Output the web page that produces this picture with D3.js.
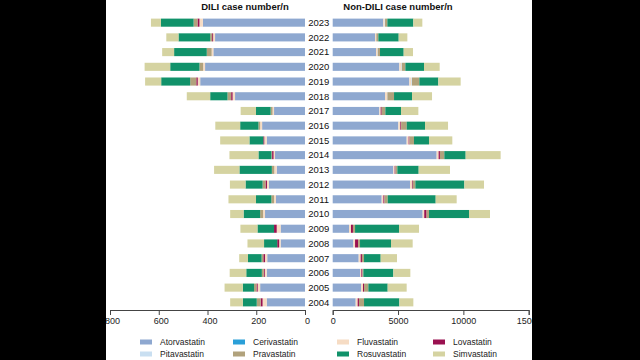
<!DOCTYPE html>
<html><head><meta charset="utf-8">
<script src="https://cdn.jsdelivr.net/npm/d3@7/dist/d3.min.js"></script>
<style>
html,body{margin:0;padding:0;background:#fff;}
svg{display:block;font-family:"Liberation Sans",Arial,sans-serif;}
</style></head>
<body>
<svg id="chart" width="640" height="360"></svg>
<script>
const years = [2004,2005,2006,2007,2008,2009,2010,2011,2012,2013,2014,2015,2016,2017,2018,2019,2020,2021,2022,2023];
const drugs = ["Atorvastatin","Cerivastatin","Fluvastatin","Lovastatin","Pitavastatin","Pravastatin","Rosuvastatin","Simvastatin"];
const colors = ["#8ea8d0","#2a9fd8","#f6dcc4","#9a1150","#c9dff1","#b1a27c","#11926a","#d5d3a1"];

// DILI case numbers (left panel), per drug, years 2004..2023
const diliAtorvastatin = [157,184,157,155,100,100,164,119,148,116,123,157,176,127,287,430,410,376,369,419];
const diliCerivastatin = [0,0,0,0,0,0,0,0,0,0,0,0,0,0,0,0,0,0,0,0];
const diliFluvastatin  = [17,10,8,9,6,16,8,8,8,10,6,10,8,6,10,10,8,7,8,14];
const diliLovastatin   = [8,5,4,7,8,11,0,0,6,0,6,4,0,0,6,6,0,0,4,8];
const diliPitavastatin = [0,0,0,0,0,0,0,0,0,0,0,0,0,0,0,0,0,0,0,0];
const diliPravastatin  = [16,10,8,7,0,0,12,11,12,10,3,0,7,8,15,25,15,20,8,16];
const diliRosuvastatin = [57,46,64,56,54,68,68,63,70,133,53,57,75,60,71,119,120,134,130,134];
const diliSimvastatin  = [52,75,68,36,68,70,55,113,64,104,119,120,102,63,96,66,105,49,50,41];

// Non-DILI case numbers (right panel)
const nonAtorvastatin = [1760,2168,2091,1989,1581,1250,6885,3749,5916,4641,7956,5661,5024,3570,4004,5865,5100,3315,3239,3876];
const nonCerivastatin = [0,0,0,0,0,0,0,0,0,0,0,0,0,0,0,0,0,0,0,0];
const nonFluvastatin  = [150,150,100,150,130,150,120,130,150,100,150,150,150,100,150,150,150,100,80,100];
const nonLovastatin   = [100,80,80,100,230,150,180,80,60,60,100,60,60,80,0,0,0,0,0,0];
const nonPitavastatin = [0,0,0,0,0,0,0,0,0,0,0,0,0,0,30,50,40,30,20,30];
const nonPravastatin  = [388,330,75,158,150,160,186,250,200,146,337,350,430,280,510,565,270,176,155,176];
const nonRosuvastatin = [2703,1479,2295,1275,2372,3366,3060,3672,3749,1632,1632,1148,1403,1199,1377,1454,1428,1811,1556,1989];
const nonSimvastatin  = [1071,1454,1301,1250,1658,1530,1607,1607,1505,2397,2678,1785,1760,1326,1530,1709,1199,714,663,689];

const leftTicks = [800,600,400,200,0];
const rightTicks = [0,5000,10000,15000];
const leftTitle = "DILI case number/n";
const rightTitle = "Non-DILI case number/n";

const diliSeries = [diliAtorvastatin,diliCerivastatin,diliFluvastatin,diliLovastatin,diliPitavastatin,diliPravastatin,diliRosuvastatin,diliSimvastatin];
const nonSeries = [nonAtorvastatin,nonCerivastatin,nonFluvastatin,nonLovastatin,nonPitavastatin,nonPravastatin,nonRosuvastatin,nonSimvastatin];

function rows(series){
  return years.map((y,i)=>{const o={year:y}; drugs.forEach((d,j)=>o[d]=series[j][i]); return o;});
}
const stack = d3.stack().keys(drugs);
const diliStack = stack(rows(diliSeries));
const nonStack = stack(rows(nonSeries));

const svg = d3.select("#chart");
const color = d3.scaleOrdinal().domain(drugs).range(colors);

const y = d3.scaleBand().domain(years.slice().reverse()).range([15.3,309.7]).paddingInner(0.45).paddingOuter(0.225);
const xL = d3.scaleLinear().domain([0,800]).range([305,110]);
const xR = d3.scaleLinear().domain([0,15000]).range([332.7,528.7]);

// left bars
svg.append("g").selectAll("g").data(diliStack).join("g").attr("fill",d=>color(d.key))
  .selectAll("rect").data(d=>d).join("rect")
  .attr("x",d=>xL(d[1])).attr("width",d=>Math.max(0,xL(d[0])-xL(d[1])))
  .attr("y",d=>y(d.data.year)).attr("height",y.bandwidth());

// right bars
svg.append("g").selectAll("g").data(nonStack).join("g").attr("fill",d=>color(d.key))
  .selectAll("rect").data(d=>d).join("rect")
  .attr("x",d=>xR(d[0])).attr("width",d=>Math.max(0,xR(d[1])-xR(d[0])))
  .attr("y",d=>y(d.data.year)).attr("height",y.bandwidth());

// year labels
svg.append("g").selectAll("text").data(years).join("text")
  .attr("x",318.8).attr("y",d=>y(d)+y.bandwidth()/2).attr("dy","0.35em")
  .attr("text-anchor","middle").attr("font-size",9.5).attr("fill","#111").text(d=>d);

// axes
const axL = svg.append("g").attr("transform","translate(0,310)")
  .call(d3.axisBottom(xL).tickValues(leftTicks).tickSize(5).tickSizeOuter(5));
const axR = svg.append("g").attr("transform","translate(0,310)")
  .call(d3.axisBottom(xR).tickValues(rightTicks).tickFormat(d3.format("d")).tickSize(5).tickSizeOuter(5));
[axL,axR].forEach(a=>{
  a.selectAll("path,line").attr("stroke","#444");
  a.selectAll("text").attr("font-size",9).attr("fill","#222").attr("font-family","Liberation Sans, Arial, sans-serif");
});
axL.selectAll("text").attr("dx",2);

// titles
svg.append("text").attr("x",245).attr("y",9.5).attr("text-anchor","middle")
  .attr("font-size",9.5).attr("font-weight","bold").attr("fill","#111").text(leftTitle);
svg.append("text").attr("x",398).attr("y",9.5).attr("text-anchor","middle")
  .attr("font-size",9.5).attr("font-weight","bold").attr("fill","#111").text(rightTitle);

// legend
const legX = [140,233,337,433];
const legY = [342,354];
const leg = svg.append("g").selectAll("g").data(drugs).join("g")
  .attr("transform",(d,i)=>`translate(${legX[i%4]},${legY[Math.floor(i/4)]})`);
leg.append("rect").attr("x",0).attr("y",-2.5).attr("width",12).attr("height",5).attr("fill",d=>color(d));
leg.append("text").attr("x",20).attr("y",0).attr("dy","0.35em").attr("font-size",8.5).attr("fill","#222").text(d=>d);

// black side frames
svg.append("rect").attr("x",0).attr("y",0).attr("width",106).attr("height",360).attr("fill","#000");
svg.append("rect").attr("x",532).attr("y",0).attr("width",108).attr("height",360).attr("fill","#000");
</script>
</body></html>
